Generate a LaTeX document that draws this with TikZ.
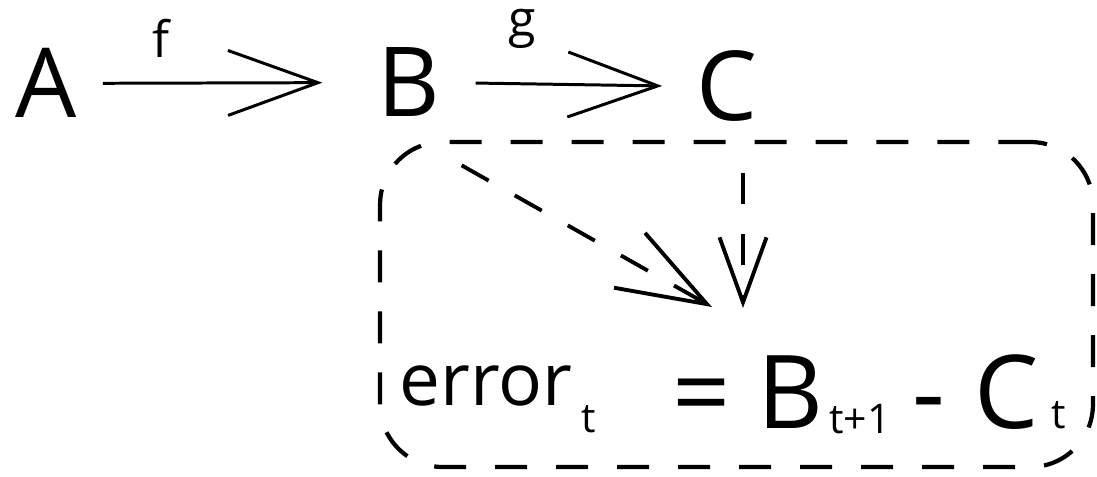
\documentclass[tikz,border=0pt]{standalone}
\usepackage{fontspec}
\setmainfont{Open Sans}
\usetikzlibrary{arrows.meta}

\begin{document}
\begin{tikzpicture}[x=0.02cm,y=-0.02cm,
  big/.style={font=\fontsize{55}{60}\selectfont,inner sep=0pt,anchor=base},
  lbl/.style={font=\fontsize{28.5}{32}\selectfont,inner sep=0pt},
  word/.style={font=\fontsize{41.5}{46}\selectfont,inner sep=0pt,anchor=base west},
  eqn/.style={font=\fontsize{58}{62}\selectfont,inner sep=0pt,anchor=base west},
  sub/.style={font=\fontsize{23.3}{26}\selectfont,inner sep=0pt,anchor=base west},
  arr/.style={line width=1.7pt,-{Straight Barb[length=1.8cm,width=1.3cm]}},
  dasharr/.style={line width=2.2pt,dash pattern=on 0.62cm off 0.6cm},
  errbox/.style={draw,line width=2.4pt,dash pattern=on 0.64cm off 0.58cm,
                 rounded corners=1.25cm,minimum width=14.26cm,
                 minimum height=6.5cm,inner sep=0pt}]
  \useasboundingbox (0,0) rectangle (1097,476);
  % the chain A -> B -> C
  \node[big] (A) at (46,118) {A};
  \node[big] (B) at (409,117) {B};
  \node[big] (C) at (727,121) {C};
  \draw[arr,shorten <=0.52cm,shorten >=1.1cm] (A.east) -- (B.west)
    node[lbl,pos=.28,above=0.48cm] (flab) {f};
  \draw[arr,shorten <=0.7cm,shorten >=0.68cm] (B.east) -- (C.west)
    node[lbl,pos=.32,above=0.68cm] (glab) {g};

  % the error term
  \node[errbox] (box) at (736.5,304.5) {};
  \node[word] (err) at (399,405) {error};
  \node[sub] (errt) at (581,432) {t};
  \node[eqn] (eq) at (672,428) {=};
  \node[eqn] (Bt) at (757,428) {B};
  \node[sub] (Btt) at (829,433) {t+1};
  \node[eqn] (mn) at (912,428) {-};
  \node[eqn] (Ct) at (974,428) {C};
  \node[sub] (Ctt) at (1051,428) {t};

  \coordinate (tipB) at (712,307);
  \coordinate (tipC) at (743,308);
  \draw[dasharr,-{Straight Barb[length=1.78cm,width=1.26cm]}]
    ([xshift=0.42cm,yshift=-0.96cm]B.south east) -- (tipB);
  \draw[dasharr,shorten <=1.02cm,-{Straight Barb[length=1.3cm,width=0.94cm]}]
    (tipC |- C.south) -- (tipC);
\end{tikzpicture}
\end{document}
